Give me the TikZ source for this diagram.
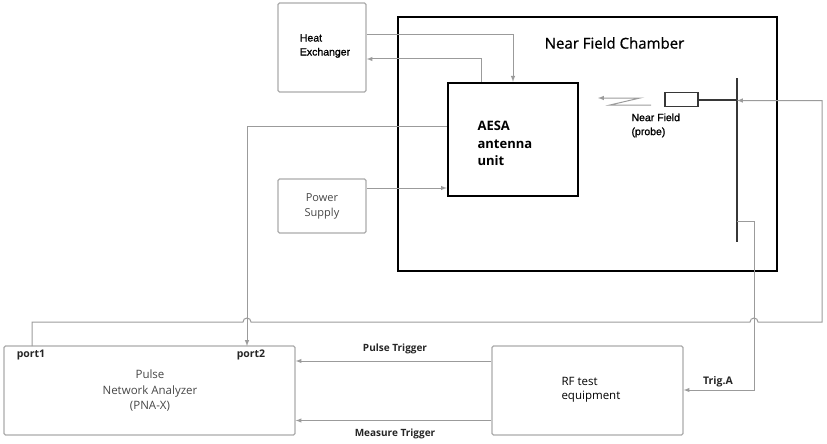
\documentclass[tikz,border=0pt]{standalone}
\usepackage{fontspec}
\setmainfont{Open Sans}
\newfontfamily\arialfont[FakeBold=1.2]{Liberation Sans}
\newfontfamily\titlefont[FakeBold=0.8]{Open Sans}
\usetikzlibrary{arrows}

\definecolor{linegray}{RGB}{155,155,155}
\definecolor{boxgray}{RGB}{170,170,170}
\definecolor{textgray}{RGB}{70,70,70}
\definecolor{roddark}{RGB}{55,55,55}

\begin{document}
\begin{tikzpicture}[x=1pt, y=-1pt,
    gbox/.style={rectangle, rounded corners=1.5, draw=boxgray, line width=1.3pt, inner sep=0pt},
    thick box/.style={rectangle, draw=black, line width=2.4pt, inner sep=0pt},
    wire/.style={-latex, draw=linegray, line width=1pt},
    rod/.style={draw=roddark, line width=2pt},
    lbl/.style={font=\fontsize{10.5}{12}\selectfont\bfseries, text=black!85}]
    \useasboundingbox (0,0) rectangle (827,444);
    % nodes
    \node[gbox, minimum width=88, minimum height=89] (heat) at (322,47.5) {};
    \node[align=left, font=\arialfont\fontsize{10.5}{14}\selectfont] (heatlbl) at (325,46) {Heat\\Exchanger};
    \node[gbox, minimum width=88, minimum height=54, align=center, text=textgray, font=\fontsize{11}{15}\selectfont] (psu) at (322,206) {Power\\Supply};
    \node[thick box, minimum width=379, minimum height=254] (chamber) at (587.5,144) {};
    \node[font=\titlefont\fontsize{15}{17}\selectfont] (chtitle) at (614.5,43) {Near Field Chamber};
    \node[thick box, minimum width=130, minimum height=113] (aesa) at (513,139.5) {};
    \node[anchor=west, align=left, font=\fontsize{13}{17.5}\selectfont\bfseries] (aesalbl) at (474,143.5) {AESA\\antenna\\unit};
    \node[rectangle, draw=roddark, line width=1.5pt, minimum width=33, minimum height=14, inner sep=0pt] (probe) at (681.5,99.5) {};
    \node[anchor=north west, align=left, font=\arialfont\fontsize{10.5}{14}\selectfont] (probelbl) at (628,110) {Near Field\\(probe)};
    \coordinate (rodtop) at (737,78);
    \coordinate (rodbot) at (737,242);
    \node[gbox, minimum width=291, minimum height=89] (pna) at (149.5,390.5) {};
    \node[align=center, text=textgray, font=\fontsize{11.5}{15.5}\selectfont] (pnalbl) at (150,391) {Pulse\\Network Analyzer\\(PNA-X)};
    \node[lbl] (port1) at (31,355) {port1};
    \node[lbl] (port2) at (251,355) {port2};
    \node[gbox, minimum width=191, minimum height=89] (rf) at (587.5,390.5) {};
    \node[anchor=west, align=left, font=\fontsize{11.5}{14}\selectfont] (rflbl) at (558,390) {RF test\\equipment};
    \node[lbl, font=\fontsize{10}{12}\selectfont\bfseries] (pulselbl) at (395,349) {Pulse Trigger};
    \node[lbl, font=\fontsize{10}{12}\selectfont\bfseries] (measlbl) at (395,434) {Measure Trigger};
    \node[lbl] (triglbl) at (718,382) {Trig.A};
    \coordinate (p1) at (32,346);
    \coordinate (p2) at (247,346);
    \coordinate (tap) at (737,221);
    \coordinate (zz) at (651,105);
    % edges
    \draw [wire] ([yshift=12.5]heat.east) -| (aesa.north);
    \draw [wire] ([xshift=-32]aesa.north) |- ([yshift=-11.5]heat.east);
    \draw [wire] ([yshift=18]psu.east) -- ([yshift=18]psu.east -| aesa.west);
    \draw [wire] ([yshift=13.5]aesa.west) -| (p2);
    \draw [rod] (rodtop) -- (rodbot);
    \draw [rod] (probe.east) -- (probe.east -| rodtop);
    \draw [wire] (zz) -- ++(-41,0) -- ++(30,-7) -- ++(-42,0);
    \draw [wire] (p1) -- ++(0,-24) -- (243,322) arc[start angle=180, end angle=0, radius=4pt]
        -- (750,322) arc[start angle=180, end angle=0, radius=4pt] -- (822,322) |- ([yshift=-1]probe.east -| rodtop);
    \draw [wire] (tap) -- (754,221) |- ([yshift=0.5]rf.east);
    \draw [wire] ([yshift=29.5]rf.west) -- ([yshift=29.5]pna.east);
    \draw [wire] ([yshift=-30]rf.west) -- ([yshift=-30]pna.east);
\end{tikzpicture}
\end{document}
